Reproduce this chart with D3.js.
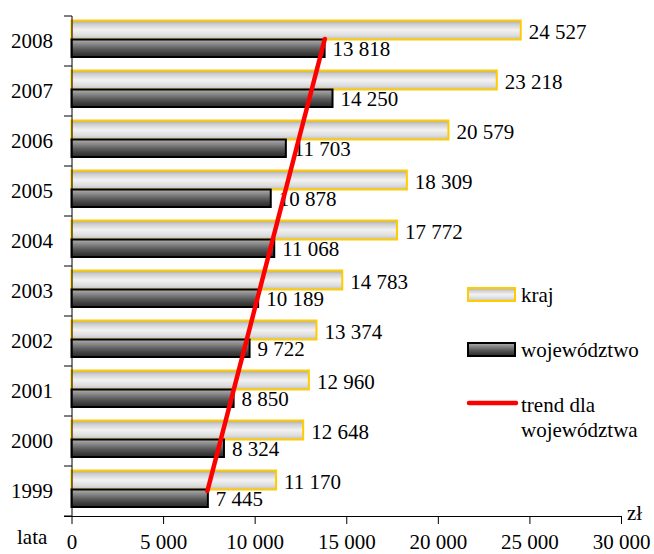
<!DOCTYPE html>
<html><head><meta charset="utf-8">
<script src="https://cdn.jsdelivr.net/npm/d3@7"></script>
<style>body{margin:0;background:#fff}svg{display:block}text{font-family:"Liberation Serif","Times New Roman",serif;fill:#000}</style>
</head><body>
<svg id="c" width="654" height="554"></svg>
<script>
const years = ["1999","2000","2001","2002","2003","2004","2005","2006","2007","2008"];
const kraj = [11170,12648,12960,13374,14783,17772,18309,20579,23218,24527];
const wojewodztwo = [7445,8324,8850,9722,10189,11068,10878,11703,14250,13818];
const trendValues = [7420,13830];
const xTicks = [0,5000,10000,15000,20000,25000,30000];
const seriesNames = ["kraj","województwo"];
const trendLabel = ["trend dla","województwa"];

const FS = 21;
const svg = d3.select("#c");
const defs = svg.append("defs");
function grad(id, stops){
  const g = defs.append("linearGradient").attr("id",id).attr("x1",0).attr("y1",0).attr("x2",0).attr("y2",1);
  stops.forEach(s=>g.append("stop").attr("offset",s[0]).attr("stop-color",s[1]));
}
grad("gK",[[0,"#a8a8a8"],[0.2,"#cfcfcf"],[0.5,"#f2f2f2"],[0.8,"#dcdcdc"],[1,"#bdbdbd"]]);
grad("gW",[[0,"#b0b0b0"],[0.25,"#8a8a8a"],[0.55,"#5a5a5a"],[0.8,"#3c3c3c"],[1,"#2a2a2a"]]);

const fmt = v => d3.format(",")(v).replace(/,/g," ");
const x = d3.scaleLinear().domain([0,30000]).range([71.5,621]);
const y = d3.scaleBand().domain(years.slice().reverse()).range([16,516]).padding(0);

// bars
const g = svg.append("g");
years.forEach((yr,i)=>{
  const b = y(yr);
  g.append("rect").attr("x",x(0)).attr("y",b+4.5).attr("width",x(kraj[i])-x(0)).attr("height",19)
    .attr("fill","url(#gK)").attr("stroke","#FFCC00").attr("stroke-width",2);
  g.append("rect").attr("x",x(0)).attr("y",b+23.5).attr("width",x(wojewodztwo[i])-x(0)).attr("height",17.5)
    .attr("fill","url(#gW)").attr("stroke","#000").attr("stroke-width",2);
});
years.forEach((yr,i)=>{
  const b = y(yr);
  g.append("text").attr("x",x(kraj[i])+8).attr("y",b+23).attr("font-size",FS).text(fmt(kraj[i]));
  g.append("text").attr("x",x(wojewodztwo[i])+8).attr("y",b+40).attr("font-size",FS).text(fmt(wojewodztwo[i]));
});

// trend
const bw = y.bandwidth();
svg.append("line")
  .attr("x1",x(trendValues[0])).attr("y1",y(years[0])+bw/2)
  .attr("x2",x(trendValues[1])).attr("y2",y(years[years.length-1])+bw/2-2)
  .attr("stroke","#FF0000").attr("stroke-width",4.5).attr("stroke-linecap","round");

// left axis
const la = svg.append("g");
la.append("line").attr("x1",72).attr("x2",72).attr("y1",16).attr("y2",516).attr("stroke","#000");
years.forEach(yr=>{
  la.append("line").attr("x1",64).attr("x2",72).attr("y1",y(yr)).attr("y2",y(yr)).attr("stroke","#000");
  la.append("text").attr("x",53).attr("y",y(yr)+bw/2+7).attr("text-anchor","end").attr("font-size",FS).text(yr);
});
la.append("line").attr("x1",64).attr("x2",72).attr("y1",516).attr("y2",516).attr("stroke","#000");

// bottom axis
const xa = svg.append("g").attr("transform","translate(0,516)")
  .call(d3.axisBottom(x).tickValues(xTicks).tickSize(8).tickFormat(fmt));
xa.select(".domain").attr("d","M64,0.5H"+x(30000));
xa.selectAll("line").attr("stroke","#000");
xa.selectAll("text").attr("dy",0).attr("y",33).attr("font-size",FS)
  .attr("font-family","Liberation Serif, Times New Roman, serif").attr("fill","#000");
svg.append("text").attr("x",17).attr("y",544).attr("font-size",FS).text("lata");
svg.append("text").attr("x",627).attr("y",520).attr("font-size",FS).text("zł");

// legend
const lg = svg.append("g");
lg.append("rect").attr("x",468).attr("y",288).attr("width",47).attr("height",13)
  .attr("fill","url(#gK)").attr("stroke","#FFCC00").attr("stroke-width",2);
lg.append("text").attr("x",521).attr("y",302).attr("font-size",FS).text(seriesNames[0]);
lg.append("rect").attr("x",468).attr("y",343).attr("width",47).attr("height",13)
  .attr("fill","url(#gW)").attr("stroke","#000").attr("stroke-width",2);
lg.append("text").attr("x",521).attr("y",357).attr("font-size",FS).text(seriesNames[1]);
lg.append("line").attr("x1",469).attr("x2",516).attr("y1",403).attr("y2",403)
  .attr("stroke","#FF0000").attr("stroke-width",4.5).attr("stroke-linecap","round");
lg.append("text").attr("x",521).attr("y",412).attr("font-size",FS).text(trendLabel[0]);
lg.append("text").attr("x",521).attr("y",437).attr("font-size",FS).text(trendLabel[1]);
</script>
</body></html>
